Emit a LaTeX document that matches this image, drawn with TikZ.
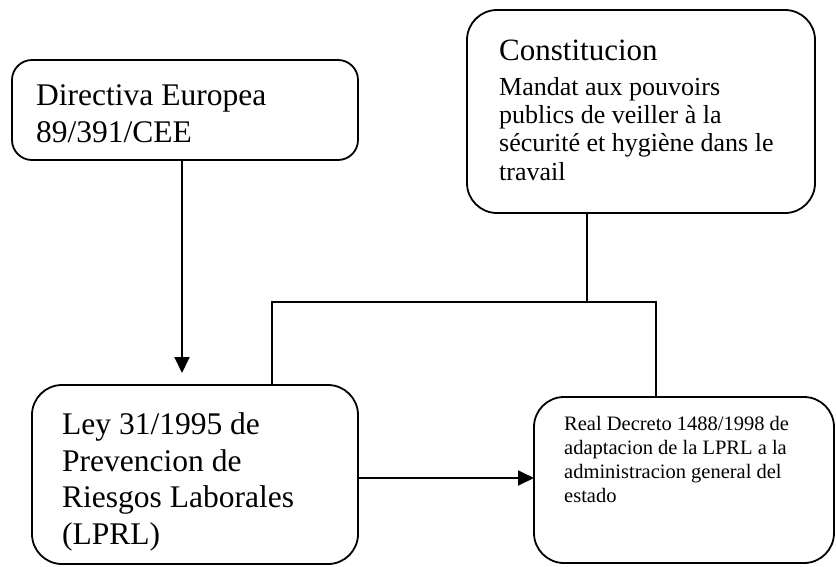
\documentclass[tikz,border=0pt]{standalone}
\usepackage{fontspec}
\setmainfont{Liberation Serif}
\usetikzlibrary{arrows.meta}
\begin{document}
\begin{tikzpicture}[x=1pt,y=-1pt,
  box/.style={draw,line width=1.8pt,inner sep=0pt,outer sep=0pt,anchor=north west},
  line/.style={line width=1.8pt},
  arr/.style={line width=1.8pt,-{Triangle[width=15pt,length=16pt]}},
  txt/.style={anchor=base west,inner sep=0pt}
]
\useasboundingbox (0,0) rectangle (836,566);
% boxes
\node[box,rounded corners=20pt,minimum width=346pt,minimum height=100pt] (dir) at (12,60) {};
\node[box,rounded corners=30pt,minimum width=348pt,minimum height=203pt] (const) at (467,10) {};
\node[box,rounded corners=30pt,minimum width=326pt,minimum height=179pt] (ley) at (32,385) {};
\node[box,rounded corners=30pt,minimum width=300pt,minimum height=166pt] (rd) at (534,397) {};
% texts
\node[txt,font=\fontsize{31.5}{37}\selectfont] (d1) at (36,105) {Directiva Europea};
\node[txt,font=\fontsize{31.5}{37}\selectfont] (d2) at (36,142) {89/391/CEE};
\node[txt,font=\fontsize{31}{34}\selectfont] (c0) at (499,60) {Constitucion};
\node[txt,font=\fontsize{26}{28}\selectfont] (c1) at (499,95) {Mandat aux pouvoirs};
\node[txt,font=\fontsize{26}{28}\selectfont] (c2) at (499,123) {publics de veiller à la};
\node[txt,font=\fontsize{26}{28}\selectfont] (c3) at (499,151) {sécurité et hygiène dans le};
\node[txt,font=\fontsize{26}{28}\selectfont] (c4) at (499,180) {travail};
\node[txt,font=\fontsize{31.5}{37}\selectfont] (l1) at (62,434) {Ley 31/1995 de};
\node[txt,font=\fontsize{31.5}{37}\selectfont] (l2) at (62,471) {Prevencion de};
\node[txt,font=\fontsize{31.5}{37}\selectfont] (l3) at (62,507) {Riesgos Laborales};
\node[txt,font=\fontsize{31.5}{37}\selectfont] (l4) at (62,544) {(LPRL)};
\node[txt,font=\fontsize{20.5}{24}\selectfont] (r1) at (564,430) {Real Decreto 1488/1998 de};
\node[txt,font=\fontsize{20.5}{24}\selectfont] (r2) at (564,454) {adaptacion de la LPRL a la};
\node[txt,font=\fontsize{20.5}{24}\selectfont] (r3) at (564,478) {administracion general del};
\node[txt,font=\fontsize{20.5}{24}\selectfont] (r4) at (564,502) {estado};
% connectors
\coordinate (j) at (587,302);
\coordinate (jl) at (272,302);
\coordinate (jr) at (656,302);
\coordinate (m) at (0,478);
\coordinate (dx) at (182,0);
\draw[arr,shorten >=12pt] (dir.south -| dx) -- (ley.north -| dx);
\draw[arr] (ley.east |- m) -- (rd.west |- m);
\draw[line] (const.south -| j) -- (j);
\draw[line] (ley.north -| jl) -- (jl) -- (jr) -- (rd.north -| jr);
\end{tikzpicture}
\end{document}
